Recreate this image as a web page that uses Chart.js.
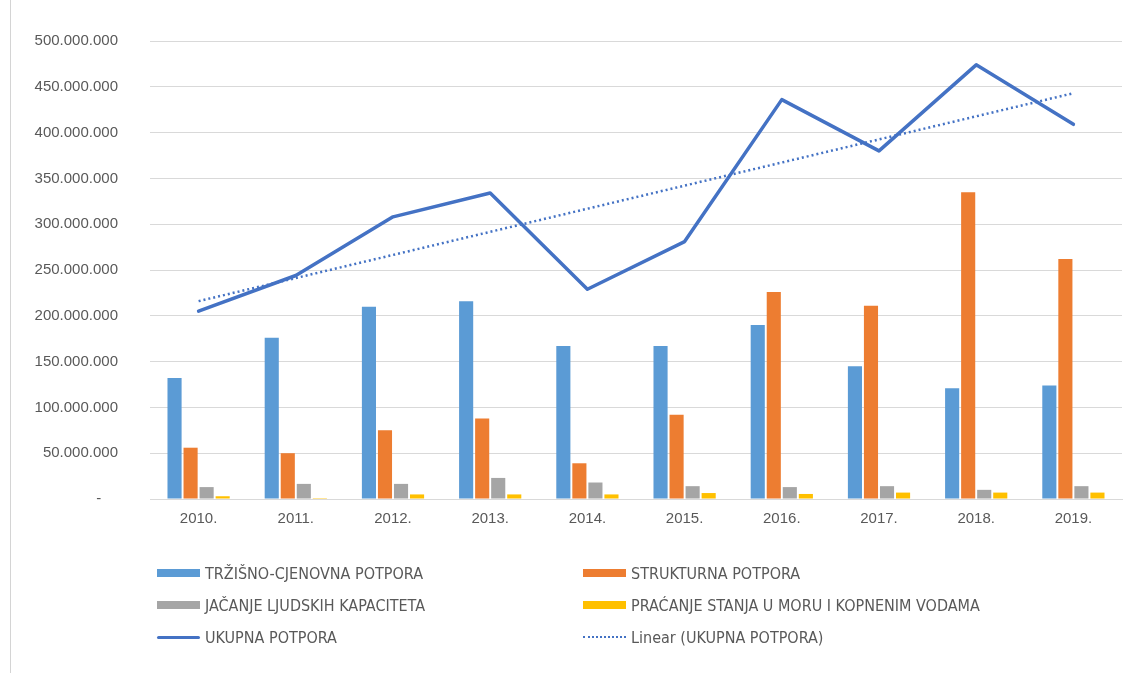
<!DOCTYPE html>
<html>
<head>
<meta charset="utf-8">
<script src="https://cdn.jsdelivr.net/npm/chart.js@4.4.0/dist/chart.umd.min.js"></script>
<style>
    body { margin: 0; background: #ffffff; }
    #wrap { position: relative; width: 1128px; height: 673px; overflow: hidden; }
    #frame { position: absolute; left: 10px; top: 0; width: 1118px; height: 673px; border-left: 1px solid #d4d4d4; }
    #chart { position: absolute; left: 0; top: 0; }
    #legend { position: absolute; left: 0; top: 0; width: 1128px; height: 673px; pointer-events: none;
              font-family: "Liberation Sans Narrow", "DejaVu Sans Condensed", "Liberation Sans", sans-serif;
              font-size: 16px; color: #595959; }
    .item { position: absolute; display: flex; align-items: center; height: 20px; }
    .sym { width: 43px; margin-right: 5px; }
</style>
</head>
<body>
<div id="wrap">
    <div id="frame"></div>
    <canvas id="chart" width="1128" height="540"></canvas>
    <div id="legend"></div>
</div>
<script>
// 연도 (카테고리)
const years = ['2010.', '2011.', '2012.', '2013.', '2014.', '2015.', '2016.', '2017.', '2018.', '2019.'];

// 막대 시리즈 값
const trzisnoCjenovna = [132000000, 176000000, 210000000, 216000000, 167000000, 167000000, 190000000, 145000000, 121000000, 124000000];
const strukturna = [56000000, 50000000, 75000000, 88000000, 39000000, 92000000, 226000000, 211000000, 335000000, 262000000];
const jacanjeKapaciteta = [13000000, 16500000, 16500000, 23000000, 18000000, 14000000, 13000000, 14000000, 10000000, 14000000];
const pracenjeStanja = [3000000, 1000000, 5000000, 5000000, 5000000, 6500000, 5500000, 7000000, 7000000, 7000000];

// 선 시리즈 값
const ukupna = [205000000, 244000000, 308000000, 334000000, 229000000, 281000000, 436000000, 380000000, 474000000, 409000000];

// 추세선 끝점
const trendStart = 216000000;
const trendEnd = 443000000;

// Y축 눈금
const yMax = 500000000;
const yStep = 50000000;

const colors = {
    blue: '#5B9BD5',
    orange: '#ED7D31',
    gray: '#A5A5A5',
    yellow: '#FFC000',
    line: '#4472C4',
    text: '#595959',
    grid: '#d9d9d9'
};

function formatTick(v) {
    if (v === 0) return '-    ';
    return String(v).replace(/\B(?=(\d{3})+(?!\d))/g, '.');
}

const barCommon = { categoryPercentage: 0.66, barPercentage: 0.88, order: 2 };

const chart = new Chart(document.getElementById('chart'), {
    data: {
        labels: years,
        datasets: [
            { type: 'bar', label: 'TRŽIŠNO-CJENOVNA POTPORA', data: trzisnoCjenovna, backgroundColor: colors.blue, ...barCommon },
            { type: 'bar', label: 'STRUKTURNA POTPORA', data: strukturna, backgroundColor: colors.orange, ...barCommon },
            { type: 'bar', label: 'JAČANJE LJUDSKIH KAPACITETA', data: jacanjeKapaciteta, backgroundColor: colors.gray, ...barCommon },
            { type: 'bar', label: 'PRAĆANJE STANJA U MORU I KOPNENIM VODAMA', data: pracenjeStanja, backgroundColor: colors.yellow, ...barCommon },
            {
                type: 'line', label: 'UKUPNA POTPORA', data: ukupna,
                borderColor: colors.line, borderWidth: 3.5, pointRadius: 0, tension: 0,
                borderJoinStyle: 'round', borderCapStyle: 'round', order: 0
            },
            {
                type: 'line', label: 'Linear (UKUPNA POTPORA)',
                data: [{ x: years[0], y: trendStart }, { x: years[years.length - 1], y: trendEnd }],
                borderColor: colors.line, borderWidth: 2.5, borderDash: [2, 3], pointRadius: 0, order: 1
            }
        ]
    },
    options: {
        responsive: false,
        animation: false,
        layout: { padding: { left: 0, right: 6, top: 41, bottom: 0 } },
        plugins: {
            legend: { display: false },
            tooltip: { enabled: false }
        },
        scales: {
            x: {
                grid: { display: false, drawTicks: false },
                border: { color: colors.grid, width: 1 },
                ticks: {
                    color: colors.text,
                    padding: 11,
                    font: { family: 'Liberation Sans', size: 15 }
                },
                afterFit: s => { s.height = 40; }
            },
            y: {
                min: 0,
                max: yMax,
                grid: { color: colors.grid, lineWidth: 1, drawTicks: false },
                border: { display: false },
                ticks: {
                    stepSize: yStep,
                    color: colors.text,
                    padding: 32,
                    font: { family: 'Liberation Sans', size: 15 },
                    callback: v => formatTick(v)
                },
                afterFit: s => { s.width = 150; }
            }
        }
    }
});

// 범례: 2열 3행 배치
const legendSlots = [
    { x: 157, y: 573 }, { x: 583, y: 573 },
    { x: 157, y: 605 }, { x: 583, y: 605 },
    { x: 157, y: 637 }, { x: 583, y: 637 }
];
const legendEl = document.getElementById('legend');
chart.data.datasets.forEach((ds, i) => {
    const slot = legendSlots[i];
    const item = document.createElement('div');
    item.className = 'item';
    item.style.left = slot.x + 'px';
    item.style.top = (slot.y - 10) + 'px';
    const sym = document.createElement('div');
    sym.className = 'sym';
    if (ds.type === 'bar') {
        sym.style.height = '8px';
        sym.style.background = ds.backgroundColor;
    } else if (ds.borderDash) {
        sym.style.borderTop = '2px dotted ' + ds.borderColor;
    } else {
        sym.style.height = '3px';
        sym.style.borderRadius = '2px';
        sym.style.background = ds.borderColor;
    }
    const txt = document.createElement('span');
    txt.textContent = ds.label;
    item.appendChild(sym);
    item.appendChild(txt);
    legendEl.appendChild(item);
});
</script>
</body>
</html>
